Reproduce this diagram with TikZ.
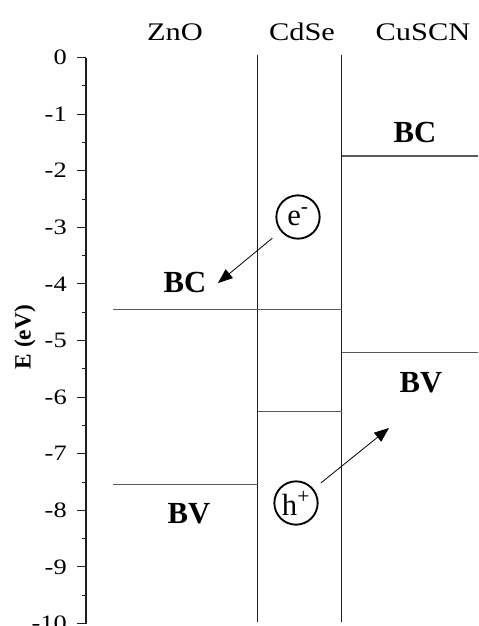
\documentclass[tikz,border=0pt]{standalone}
\usepackage{fontspec}
\setmainfont{Liberation Serif}
\newfontfamily\widefont[FakeStretch=1.2]{Liberation Serif}
\usepackage{xcolor}
\definecolor{bandgray}{RGB}{90,90,90}
\definecolor{layerblack}{RGB}{30,30,30}
\usetikzlibrary{arrows.meta}

\tikzset{
  band/.style={bandgray, line width=0.8pt},
  layer/.style={layerblack, line width=1.4pt},
  bandlabel/.style={font=\fontsize{23}{26}\selectfont\bfseries},
  header/.style={font=\widefont\fontsize{19}{22}\selectfont},
  ticklabel/.style={anchor=east, inner sep=0pt, font=\widefont\fontsize{16.5}{18}\selectfont},
  carrier/.style={draw, circle, line width=1.4pt, minimum size=32.5pt, inner sep=0pt,
                  font=\fontsize{23}{24}\selectfont},
  flow/.style={-{Triangle[length=11pt,width=8.5pt]}, line width=0.6pt},
}

\begin{document}
\begin{tikzpicture}[x=0.75pt, y=42.45pt]

\useasboundingbox (0,1.016) rectangle (478,-10.044);

% === Axis ===
\draw[layerblack, line width=1.1pt] (86,0) -- (86,-10);
\foreach \e in {0,...,10} {
    \draw[layerblack, line width=0.8pt] (77,-\e) -- (86,-\e);
    \node[ticklabel] at (67,-\e) {\ifnum\e=0 0\else -\e\fi};
}
\foreach \e in {0.5,1.5,...,9.5} {
    \draw[layerblack, line width=0.6pt] (82,-\e) -- (86,-\e);
}
\node[font=\fontsize{17.5}{20}\selectfont\bfseries, rotate=90] (elabel) at (25,-4.94) {E (eV)};

% === Headers ===
\node[header] (zno) at (175,0.45) {ZnO};
\node[header] (cdse) at (302,0.45) {CdSe};
\node[header] (cuscn) at (423,0.45) {CuSCN};

% === CdSe layer walls ===
\draw[layer] (257.5,0.044) -- (257.5,-9.973);
\draw[layer] (341.5,0.044) -- (341.5,-9.973);

% === Band edges ===
\draw[band] (113,-4.46) -- (341.5,-4.46);   % ZnO + CdSe BC
\draw[band] (257.5,-6.25) -- (341.5,-6.25); % CdSe BV
\draw[band] (113,-7.54) -- (257.5,-7.54);   % ZnO BV
\draw[band] (341.5,-1.74) -- (478,-1.74);   % CuSCN BC
\draw[band] (341.5,-5.22) -- (478,-5.22);   % CuSCN BV

\node[bandlabel] (zncb) at (185,-3.98) {BC};
\node[bandlabel] (znvb) at (189,-8.06) {BV};
\node[bandlabel] (cucb) at (415,-1.32) {BC};
\node[bandlabel] (cuvb) at (421,-5.75) {BV};

% === Carriers ===
\node[carrier] (elec) at (298,-2.818) {e\textsuperscript{-}};
\node[carrier] (hole) at (296,-7.871) {h\textsuperscript{+}};

\coordinate (etip) at (218,-3.984);
\coordinate (htip) at (389,-6.546);

\draw[flow, shorten <=8pt] (elec) -- (etip);
\draw[flow, shorten <=7pt] (hole) -- (htip);

\end{tikzpicture}
\end{document}
